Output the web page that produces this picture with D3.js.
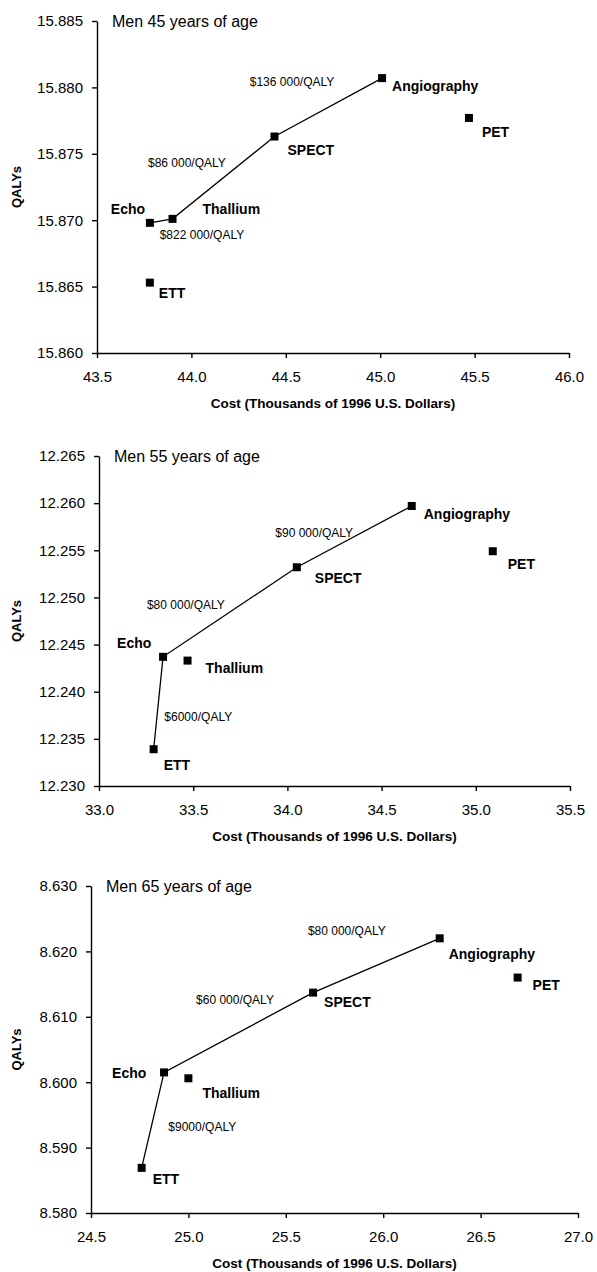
<!DOCTYPE html>
<html>
<head>
<meta charset="utf-8">
<script src="https://cdn.jsdelivr.net/npm/d3@7"></script>
<style>
  body { margin: 0; background: #fff; }
  text { font-family: Arial, "Liberation Sans", sans-serif; fill: #000; }
  .tick text { font-size: 15px; }
  .axis path, .axis line { stroke: #000; stroke-width: 1.4; }
  .ptLabel { font-size: 14px; font-weight: bold; }
  .icer { font-size: 12px; }
</style>
</head>
<body>
<script>
// categories (strategies)
var strategies = ["ETT", "Echo", "Thallium", "SPECT", "Angiography", "PET"];

// cost in thousands of 1996 US dollars, per age group
var cost45 = [43.78, 43.78, 43.90, 44.44, 45.01, 45.47];
var cost55 = [33.29, 33.34, 33.47, 34.05, 34.66, 35.09];
var cost65 = [24.76, 24.875, 25.00, 25.64, 26.29, 26.69];

// QALYs per age group
var qaly45 = [15.8653, 15.8698, 15.8701, 15.8763, 15.8807, 15.8777];
var qaly55 = [12.2339, 12.2437, 12.2433, 12.2532, 12.2597, 12.2549];
var qaly65 = [8.5869, 8.6015, 8.6006, 8.6137, 8.6220, 8.6160];

// efficient frontier (strategy order along the line)
var frontier45 = ["Echo", "Thallium", "SPECT", "Angiography"];
var frontier55 = ["ETT", "Echo", "SPECT", "Angiography"];
var frontier65 = ["ETT", "Echo", "SPECT", "Angiography"];

// incremental cost-effectiveness labels, one per frontier segment
var icer45 = ["$822 000/QALY", "$86 000/QALY", "$136 000/QALY"];
var icer55 = ["$6000/QALY", "$80 000/QALY", "$90 000/QALY"];
var icer65 = ["$9000/QALY", "$60 000/QALY", "$80 000/QALY"];

// axis ticks
var xTicks45 = [43.5, 44.0, 44.5, 45.0, 45.5, 46.0];
var xTicks55 = [33.0, 33.5, 34.0, 34.5, 35.0, 35.5];
var xTicks65 = [24.5, 25.0, 25.5, 26.0, 26.5, 27.0];
var yTicks45 = [15.860, 15.865, 15.870, 15.875, 15.880, 15.885];
var yTicks55 = [12.230, 12.235, 12.240, 12.245, 12.250, 12.255, 12.260, 12.265];
var yTicks65 = [8.580, 8.590, 8.600, 8.610, 8.620, 8.630];

var titles = ["Men 45 years of age", "Men 55 years of age", "Men 65 years of age"];

// layout for each panel (pixel box + label offsets)
var panels = [
  { box: {left: 97, right: 569, top: 21, bottom: 353},
    cost: cost45, qaly: qaly45, frontier: frontier45, icer: icer45,
    xTicks: xTicks45, yTicks: yTicks45, title: titles[0],
    ptOff: {ETT: [9, 10], Echo: [-39, -14], Thallium: [30, -10], SPECT: [13, 14], Angiography: [10, 8], PET: [13, 14]},
    icerOff: [[-1.5, 13.5], [-75.5, -15], [-78.5, -26]] },
  { box: {left: 99, right: 570, top: 456, bottom: 786},
    cost: cost55, qaly: qaly55, frontier: frontier55, icer: icer55,
    xTicks: xTicks55, yTicks: yTicks55, title: titles[1],
    ptOff: {ETT: [10, 16], Echo: [-46, -14], Thallium: [18, 7], SPECT: [18, 11], Angiography: [12, 8], PET: [15, 13]},
    icerOff: [[6, 13.5], [-83, -7.5], [-79, -3.5]] },
  { box: {left: 91, right: 578, top: 886, bottom: 1213},
    cost: cost65, qaly: qaly65, frontier: frontier65, icer: icer65,
    xTicks: xTicks65, yTicks: yTicks65, title: titles[2],
    ptOff: {ETT: [11, 11], Echo: [-52, 1], Thallium: [14, 15], SPECT: [11, 9], Angiography: [9, 16], PET: [15, 8]},
    icerOff: [[15.5, 6.5], [-42.5, -32.5], [-68.5, -34.5]] }
];

var svg = d3.select("body").append("svg")
  .attr("width", 597)
  .attr("height", 1272);

panels.forEach(function(p) {
  var b = p.box;
  var x = d3.scaleLinear()
    .domain([p.xTicks[0], p.xTicks[p.xTicks.length - 1]])
    .range([b.left, b.right]);
  var y = d3.scaleLinear()
    .domain([p.yTicks[0], p.yTicks[p.yTicks.length - 1]])
    .range([b.bottom, b.top]);

  var pts = strategies.map(function(s, i) {
    return {name: s, cost: p.cost[i], qaly: p.qaly[i]};
  });
  var byName = {};
  pts.forEach(function(d) { byName[d.name] = d; });

  // axes
  svg.append("g")
    .attr("class", "axis")
    .attr("transform", "translate(0," + b.bottom + ")")
    .call(d3.axisBottom(x).tickValues(p.xTicks).tickFormat(d3.format(".1f"))
      .tickSize(5).tickSizeOuter(0).tickPadding(13));
  svg.append("g")
    .attr("class", "axis")
    .attr("transform", "translate(" + b.left + ",0)")
    .call(d3.axisLeft(y).tickValues(p.yTicks).tickFormat(d3.format(".3f"))
      .tickSize(5).tickSizeOuter(0).tickPadding(9));

  // axis titles
  svg.append("text")
    .attr("x", (b.left + b.right) / 2)
    .attr("y", b.bottom + 55)
    .attr("text-anchor", "middle")
    .style("font-size", "13.5px")
    .style("font-weight", "bold")
    .text("Cost (Thousands of 1996 U.S. Dollars)");
  svg.append("text")
    .attr("transform", "translate(21," + (b.top + b.bottom) / 2 + ") rotate(-90)")
    .attr("text-anchor", "middle")
    .style("font-size", "13px")
    .style("font-weight", "bold")
    .text("QALYs");

  // panel title
  svg.append("text")
    .attr("x", b.left + 15)
    .attr("y", b.top)
    .attr("dy", "0.35em")
    .style("font-size", "16px")
    .text(p.title);

  // frontier line
  var line = d3.line()
    .x(function(d) { return x(d.cost); })
    .y(function(d) { return y(d.qaly); });
  var fpts = p.frontier.map(function(n) { return byName[n]; });
  svg.append("path")
    .datum(fpts)
    .attr("d", line)
    .attr("fill", "none")
    .attr("stroke", "#000")
    .attr("stroke-width", 1.3);

  // ICER labels at segment midpoints
  p.icer.forEach(function(t, i) {
    var a = fpts[i], c = fpts[i + 1];
    svg.append("text")
      .attr("class", "icer")
      .attr("x", (x(a.cost) + x(c.cost)) / 2 + p.icerOff[i][0])
      .attr("y", (y(a.qaly) + y(c.qaly)) / 2 + p.icerOff[i][1])
      .attr("dy", "0.35em")
      .text(t);
  });

  // square markers
  svg.selectAll(null)
    .data(pts)
    .enter()
    .append("rect")
    .attr("x", function(d) { return x(d.cost) - 4; })
    .attr("y", function(d) { return y(d.qaly) - 4; })
    .attr("width", 8)
    .attr("height", 8)
    .attr("fill", "#000");

  // strategy labels
  svg.selectAll(null)
    .data(pts)
    .enter()
    .append("text")
    .attr("class", "ptLabel")
    .attr("x", function(d) { return x(d.cost) + p.ptOff[d.name][0]; })
    .attr("y", function(d) { return y(d.qaly) + p.ptOff[d.name][1]; })
    .attr("dy", "0.35em")
    .text(function(d) { return d.name; });
});
</script>
</body>
</html>
